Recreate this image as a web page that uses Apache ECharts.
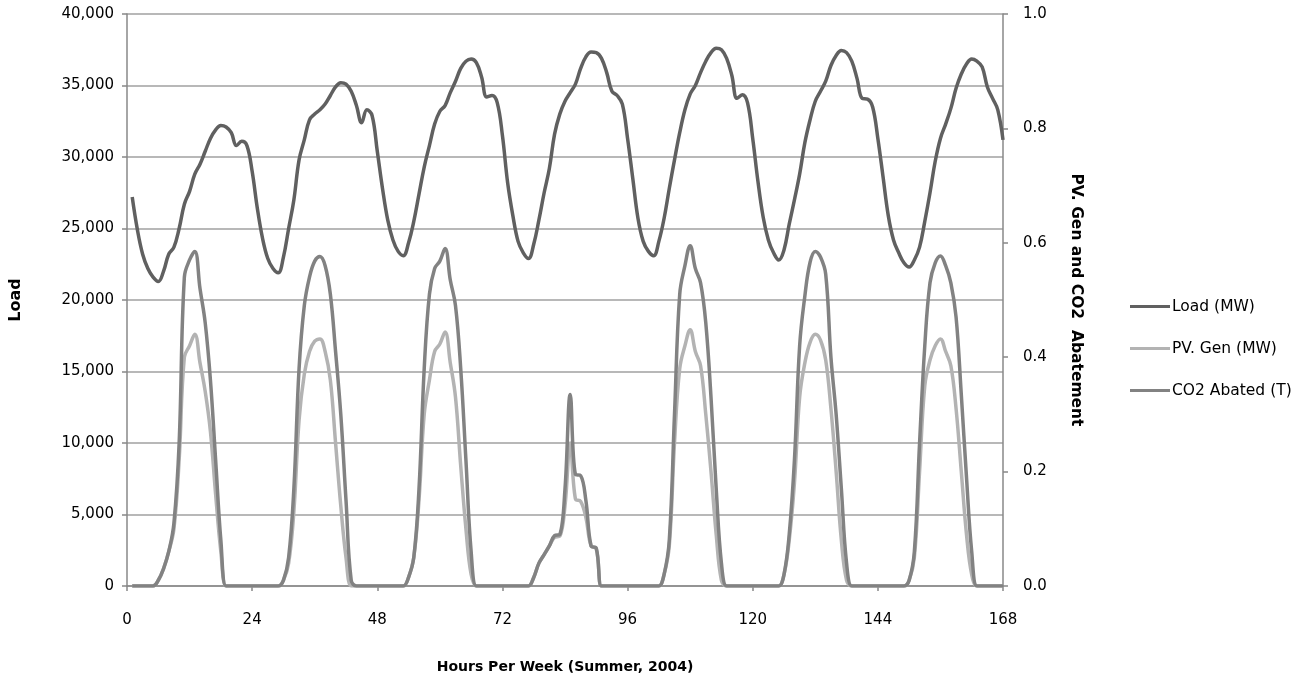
<!DOCTYPE html>
<html>
<head>
<meta charset="utf-8">
<script src="https://cdn.jsdelivr.net/npm/echarts@6/dist/echarts.min.js"></script>
<style>html,body{margin:0;padding:0;background:#fff;overflow:hidden;}#c{width:1315px;height:679px;}</style>
</head>
<body>
<div id="c"></div>
<script>
// Hours 1..168 of the summer week
const hours = [];
for (let h = 1; h <= 168; h++) hours.push(h);

const loadMW = [
27200,24900,23200,22200,21600,21300,22000,23200,23700,25000,26700,27600,28800,29500,30400,31300,31900,32200,32100,31700,30800,31100,30800,29000,
26400,24300,22900,22200,21900,23000,25000,27000,29800,31200,32600,33000,33300,33700,34300,34900,35200,35100,34600,33600,32400,33300,32900,30400,
27800,25600,24200,23400,23100,24000,25500,27400,29300,30800,32300,33200,33600,34500,35300,36200,36700,36850,36600,35600,34200,34300,33800,31500,
28200,25900,24100,23300,22900,23900,25600,27500,29200,31600,33000,33900,34500,35100,36200,37000,37350,37300,36900,35900,34600,34300,33700,31300,
28500,25700,24100,23400,23100,24100,25700,27800,29800,31700,33300,34400,35000,35900,36700,37300,37600,37500,36900,35700,34100,34350,33800,31300,
28300,25800,24200,23300,22800,23500,25300,27000,28800,31000,32600,33900,34600,35300,36400,37100,37450,37300,36700,35500,34100,34050,33500,31300,
28600,25900,24200,23300,22600,22300,22800,23700,25500,27500,29700,31300,32300,33400,34800,35800,36500,36850,36700,36300,34900,34100,33300,31200
];

const pvGen = [
0,0,0,0,0,0.01,0.03,0.06,0.10,0.22,0.40,0.42,0.44,0.39,0.34,0.27,0.16,0.06,0,0,0,0,0,0,
0,0,0,0,0,0.01,0.04,0.13,0.29,0.37,0.41,0.428,0.432,0.41,0.36,0.25,0.14,0.05,0,0,0,0,0,0,
0,0,0,0,0,0.015,0.05,0.15,0.30,0.36,0.41,0.423,0.444,0.39,0.33,0.21,0.10,0.02,0,0,0,0,0,0,
0,0,0,0,0,0.015,0.04,0.055,0.07,0.085,0.087,0.14,0.25,0.152,0.148,0.12,0.07,0.065,0,0,0,0,0,0,
0,0,0,0,0,0,0.02,0.07,0.25,0.38,0.42,0.448,0.41,0.385,0.30,0.20,0.09,0.01,0,0,0,0,0,0,
0,0,0,0,0,0.02,0.08,0.18,0.33,0.39,0.426,0.44,0.43,0.395,0.31,0.20,0.08,0.01,0,0,0,0,0,0,
0,0,0,0,0,0.01,0.05,0.20,0.35,0.395,0.42,0.432,0.41,0.385,0.31,0.20,0.09,0.02,0,0,0,0,0,0
];

const co2Abated = [
0,0,0,0,0,0.01,0.03,0.06,0.11,0.25,0.54,0.57,0.585,0.52,0.46,0.36,0.22,0.08,0,0,0,0,0,0,
0,0,0,0,0,0.01,0.05,0.17,0.38,0.49,0.54,0.568,0.576,0.56,0.51,0.41,0.30,0.15,0.01,0,0,0,0,0,
0,0,0,0,0,0.015,0.05,0.17,0.38,0.51,0.555,0.568,0.59,0.535,0.49,0.38,0.22,0.06,0,0,0,0,0,0,
0,0,0,0,0,0.015,0.04,0.055,0.07,0.088,0.09,0.17,0.335,0.195,0.193,0.15,0.07,0.066,0,0,0,0,0,0,
0,0,0,0,0,0,0.02,0.08,0.30,0.51,0.56,0.595,0.555,0.53,0.46,0.33,0.17,0.04,0,0,0,0,0,0,
0,0,0,0,0,0.02,0.09,0.22,0.42,0.507,0.566,0.585,0.575,0.545,0.40,0.30,0.17,0.04,0,0,0,0,0,0,
0,0,0,0,0,0.01,0.06,0.25,0.42,0.53,0.565,0.577,0.56,0.53,0.47,0.335,0.19,0.06,0,0,0,0,0,0
];

const seriesNames = ['Load (MW)', 'PV. Gen (MW)', 'CO2 Abated (T)'];

function pairs(vals) { return hours.map((h, i) => [h, vals[i]]); }

const chart = echarts.init(document.getElementById('c'), null, {renderer: 'canvas'});
const tickFont = {fontFamily: 'DejaVu Sans', fontSize: 15, color: '#000'};
chart.setOption({
  animation: false,
  backgroundColor: '#fff',
  grid: {left: 127, top: 14, width: 876, height: 574, containLabel: false},
  legend: {
    orient: 'vertical', left: 1125, top: 292,
    icon: 'rect', itemWidth: 40, itemHeight: 3, itemGap: 23,
    textStyle: {fontFamily: 'DejaVu Sans', fontSize: 15.5, color: '#000', lineHeight: 19, padding: [0,0,0,-3]},
    data: seriesNames
  },
  xAxis: {
    type: 'value', min: 0, max: 168, interval: 24,
    name: 'Hours Per Week (Summer, 2004)', nameLocation: 'middle', nameGap: 74,
    nameTextStyle: {fontFamily: 'DejaVu Sans', fontWeight: 'bold', fontSize: 14, color: '#000'},
    axisLine: {show: true, lineStyle: {color: '#888', width: 1.5}},
    axisTick: {show: true, length: 5, lineStyle: {color: '#888', width: 1.5}},
    axisLabel: Object.assign({margin: 27}, tickFont),
    splitLine: {show: false}
  },
  yAxis: [{
    type: 'value', min: 0, max: 40000, interval: 5000, position: 'left',
    name: 'Load', nameLocation: 'middle', nameGap: 103, nameRotate: 90,
    nameTextStyle: {fontFamily: 'DejaVu Sans', fontWeight: 'bold', fontSize: 16, color: '#000'},
    axisLine: {show: true, lineStyle: {color: '#888', width: 1.5}},
    axisTick: {show: true, length: 5, lineStyle: {color: '#888', width: 1.5}},
    axisLabel: Object.assign({margin: 13, formatter: v => v.toLocaleString('en-US')}, tickFont),
    splitLine: {show: true, lineStyle: {color: '#a0a0a0', width: 1.5}}
  }, {
    type: 'value', min: 0, max: 1.0, interval: 0.2, position: 'right',
    name: 'PV. Gen and CO2  Abatement', nameLocation: 'middle', nameGap: 65, nameRotate: -90,
    nameTextStyle: {fontFamily: 'DejaVu Sans', fontWeight: 'bold', fontSize: 15.5, color: '#000'},
    axisLine: {show: true, lineStyle: {color: '#888', width: 1.5}},
    axisTick: {show: true, length: 5, lineStyle: {color: '#888', width: 1.5}},
    axisLabel: Object.assign({margin: 20, formatter: v => v.toFixed(1)}, tickFont),
    splitLine: {show: false}
  }],
  series: [{
    name: seriesNames[0], type: 'line', yAxisIndex: 0, data: pairs(loadMW),
    smooth: 0.4, symbol: 'none', z: 5,
    lineStyle: {color: '#606060', width: 3.5}, itemStyle: {color: '#606060'}
  }, {
    name: seriesNames[1], type: 'line', yAxisIndex: 1, data: pairs(pvGen),
    smooth: 0.4, symbol: 'none', z: 3,
    lineStyle: {color: '#b3b3b3', width: 3.5}, itemStyle: {color: '#b3b3b3'}
  }, {
    name: seriesNames[2], type: 'line', yAxisIndex: 1, data: pairs(co2Abated),
    smooth: 0.4, symbol: 'none', z: 4,
    lineStyle: {color: '#828282', width: 3.5}, itemStyle: {color: '#828282'}
  }]
});
</script>
</body>
</html>
